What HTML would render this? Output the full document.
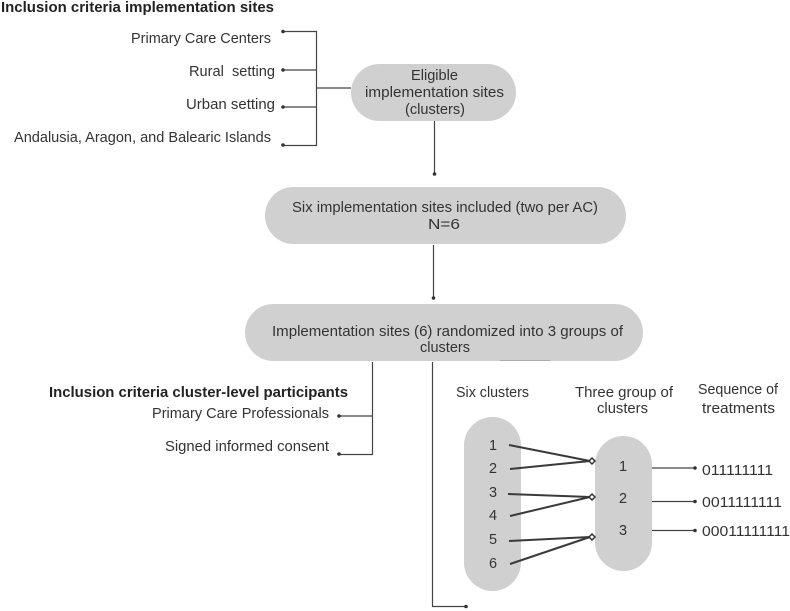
<!DOCTYPE html>
<html>
<head>
<meta charset="utf-8">
<style>
html,body{margin:0;padding:0;background:#fff;width:790px;height:611px;overflow:hidden}
svg{display:block}
text{font-family:"Liberation Sans",sans-serif;font-size:14.5px;fill:#333}
.b{font-weight:bold;fill:#222}
.l{stroke:#444;stroke-width:1.2;fill:none}
.t{stroke:#3a3a3a;stroke-width:2;fill:none}
.p{fill:#d0d0d0}
.d{fill:#333}
.m{fill:#fff;stroke:#333;stroke-width:1.5}
</style>
</head>
<body>
<svg width="790" height="611" viewBox="0 0 790 611" xmlns="http://www.w3.org/2000/svg">
<rect class="p" x="351" y="64" width="165" height="57" rx="28.5"/>
<rect class="p" x="265" y="187" width="361" height="57" rx="28.5"/>
<rect class="p" x="245" y="304" width="398" height="57" rx="28.5"/>
<rect class="p" x="464" y="417" width="57" height="174" rx="28.5"/>
<rect class="p" x="595" y="436" width="57" height="135" rx="28.5"/>
<path d="M500 360.500H550" stroke="#aaa" stroke-width="1"/>

<path class="l" d="M283 31.500H316.500V145.500H283M283 70H316.500M283 107H316.500M316.500 88H351"/>
<circle class="d" cx="283" cy="31.500" r="1.800"/><circle class="d" cx="283" cy="70" r="1.800"/><circle class="d" cx="283" cy="107" r="1.800"/><circle class="d" cx="283" cy="145" r="1.800"/>
<path class="l" d="M434.500 121V174"/><circle class="d" cx="434.500" cy="174" r="1.800"/>
<path class="l" d="M433.500 245V298"/><circle class="d" cx="433.500" cy="298" r="1.800"/>
<path class="l" d="M372.500 362V454.500H339M372.500 416H339"/>
<circle class="d" cx="339" cy="416" r="1.800"/><circle class="d" cx="339" cy="454" r="1.800"/>
<path class="l" d="M432.500 362V606.500H466"/><circle class="d" cx="466" cy="606.500" r="1.800"/>

<path class="t" d="M509 445L590 461M510 469L590 461M508 494L590 497M510 516L590 497M509 541L590 537M510 564L590 537"/>
<path class="m" d="M592 458L595 461L592 464L589 461Z"/>
<path class="m" d="M592 494L595 497L592 500L589 497Z"/>
<path class="m" d="M592 534L595 537L592 540L589 537Z"/>

<path class="l" d="M652 468H695M652 501.500H695M652 530.500H695"/>
<circle class="d" cx="695" cy="468" r="1.800"/><circle class="d" cx="695" cy="501.500" r="1.800"/><circle class="d" cx="695" cy="530.500" r="1.800"/>

<text class="b" x="1" y="12" textLength="273" lengthAdjust="spacingAndGlyphs">Inclusion criteria implementation sites</text>
<text x="131" y="43" textLength="140" lengthAdjust="spacingAndGlyphs">Primary Care Centers</text>
<text x="189" y="76" textLength="86" lengthAdjust="spacingAndGlyphs">Rural&#160; setting</text>
<text x="186" y="109" textLength="89" lengthAdjust="spacingAndGlyphs">Urban setting</text>
<text x="14" y="142" textLength="257" lengthAdjust="spacingAndGlyphs">Andalusia, Aragon, and Balearic Islands</text>

<text x="411" y="80" textLength="47" lengthAdjust="spacingAndGlyphs">Eligible</text>
<text x="365" y="97" textLength="139" lengthAdjust="spacingAndGlyphs">implementation sites</text>
<text x="405" y="114" textLength="60" lengthAdjust="spacingAndGlyphs">(clusters)</text>

<text x="292" y="212" textLength="306" lengthAdjust="spacingAndGlyphs">Six implementation sites included (two per AC)</text>
<text x="428" y="229" textLength="32" lengthAdjust="spacingAndGlyphs">N=6</text>

<text x="272" y="336" textLength="351" lengthAdjust="spacingAndGlyphs">Implementation sites (6) randomized into 3 groups of</text>
<text x="420" y="352" textLength="50" lengthAdjust="spacingAndGlyphs">clusters</text>

<text class="b" x="49" y="397" textLength="299" lengthAdjust="spacingAndGlyphs">Inclusion criteria cluster-level participants</text>
<text x="152" y="418" textLength="177" lengthAdjust="spacingAndGlyphs">Primary Care Professionals</text>
<text x="165" y="451" textLength="164" lengthAdjust="spacingAndGlyphs">Signed informed consent</text>

<text x="456" y="397" textLength="73" lengthAdjust="spacingAndGlyphs">Six clusters</text>
<text x="575" y="397" textLength="98" lengthAdjust="spacingAndGlyphs">Three group of</text>
<text x="597" y="413" textLength="51" lengthAdjust="spacingAndGlyphs">clusters</text>
<text x="698" y="394" textLength="80" lengthAdjust="spacingAndGlyphs">Sequence of</text>
<text x="702" y="413" textLength="73" lengthAdjust="spacingAndGlyphs">treatments</text>

<text x="489" y="450">1</text>
<text x="489" y="473">2</text>
<text x="489" y="497">3</text>
<text x="489" y="520">4</text>
<text x="489" y="544">5</text>
<text x="489" y="568">6</text>
<text x="619" y="471">1</text>
<text x="619" y="503">2</text>
<text x="619" y="535">3</text>

<text x="702" y="475" textLength="71" lengthAdjust="spacingAndGlyphs">011111111</text>
<text x="702" y="507" textLength="80" lengthAdjust="spacingAndGlyphs">0011111111</text>
<text x="702" y="536" textLength="88" lengthAdjust="spacingAndGlyphs">00011111111</text>
</svg>
</body>
</html>
